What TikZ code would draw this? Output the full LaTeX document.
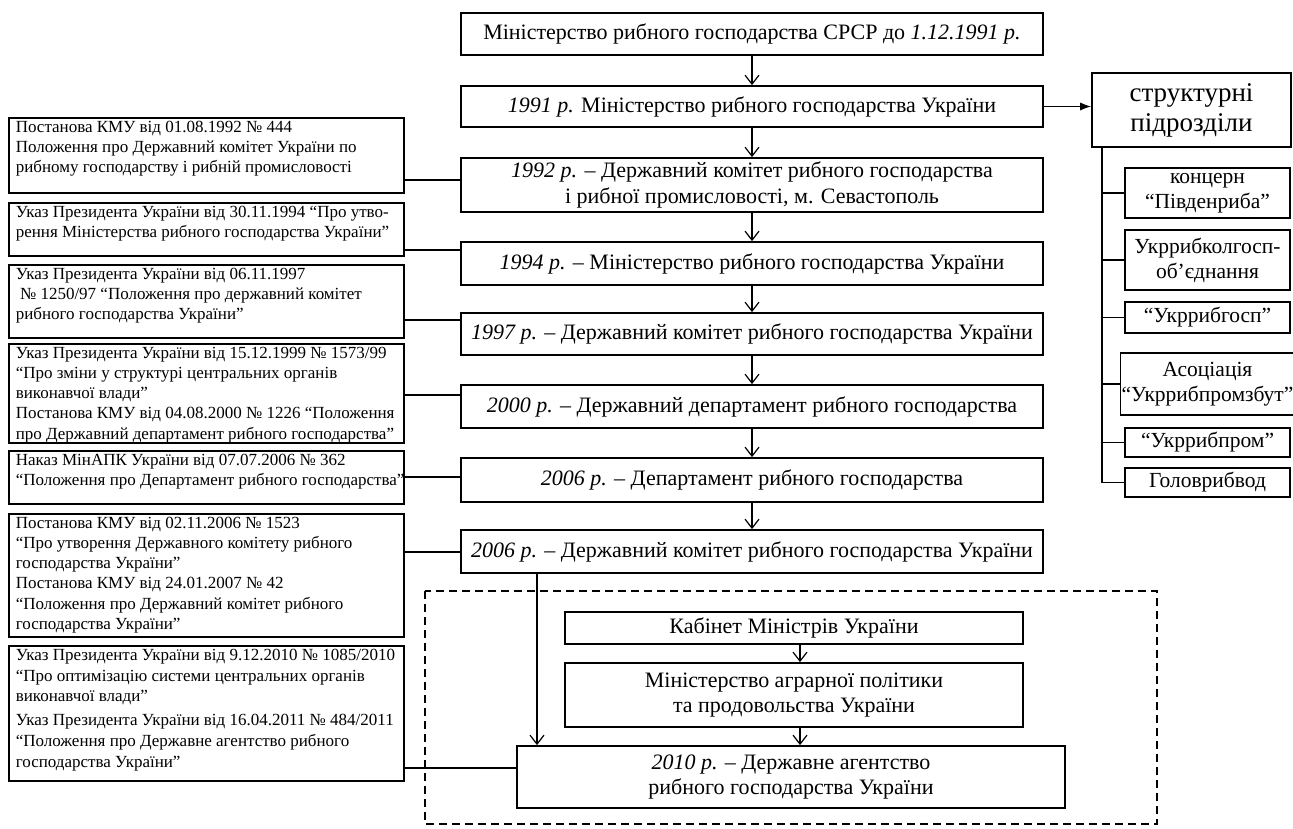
\documentclass[tikz,border=0pt]{standalone}
\usepackage{fontspec}
\setmainfont{Liberation Serif}
\usetikzlibrary{arrows.meta}
\newcommand\lb[3][20.3]{\begin{minipage}[c][#2][t]{381pt}\fontsize{17}{#1}\selectfont\vspace*{-3.5pt}\begin{tabular}{@{}l@{}}#3\end{tabular}\end{minipage}}
\begin{document}
\begin{tikzpicture}[x=1pt,y=-1pt,
 cbox/.style={draw, line width=1.8pt, align=center, inner sep=2pt, font=\fontsize{22}{25.5}\selectfont},
 lbox/.style={draw, line width=1.6pt, anchor=north west, inner xsep=7pt, inner ysep=3.5pt},
 sbox/.style={draw, line width=1.6pt, align=center, inner sep=1pt, font=\fontsize{21.5}{25}\selectfont},
 link/.style={line width=1.2pt},
 arr/.style={line width=1.2pt, -{Straight Barb[length=9pt,width=14pt,line width=1.2pt]}},
 farr/.style={line width=1.2pt, -{Latex[length=11pt,width=8pt]}},
 frame/.style={line width=2.2pt, dash pattern=on 8pt off 5pt}]
\useasboundingbox[fill=white] (0,0) rectangle (1293,829);

% central column
\node[cbox, minimum width=582pt, minimum height=42pt] (A) at (752,34) {Міністерство рибного господарства СРСР до \textit{1.12.1991 р.}};
\node[cbox, minimum width=582pt, minimum height=41pt] (B) at (752,106.5) {\textit{1991 р.} Міністерство рибного господарства України};
\node[cbox, minimum width=582pt, minimum height=54pt] (C) at (752,185) {\textit{1992 р.} – Державний комітет рибного господарства\\і рибної промисловості, м. Севастополь};
\node[cbox, minimum width=582pt, minimum height=43pt] (D) at (752,263.5) {\textit{1994 р.} – Міністерство рибного господарства України};
\node[cbox, minimum width=582pt, minimum height=42pt] (E) at (752,334) {\textit{1997 р.} – Державний комітет рибного господарства України};
\node[cbox, minimum width=582pt, minimum height=43pt] (F) at (752,406.5) {\textit{2000 р.} – Державний департамент рибного господарства};
\node[cbox, minimum width=582pt, minimum height=44pt] (G) at (752,480) {\textit{2006 р.} – Департамент рибного господарства};
\node[cbox, minimum width=582pt, minimum height=43pt] (H) at (752,551.5) {\textit{2006 р.} – Державний комітет рибного господарства України};

\draw[frame] (425,591) rectangle (1157,824);
\node[cbox, minimum width=458pt, minimum height=32pt] (K) at (794,628) {Кабінет Міністрів України};
\node[cbox, minimum width=458pt, minimum height=64pt] (M) at (794,695) {Міністерство аграрної політики\\та продовольства України};
\node[cbox, minimum width=548pt, minimum height=62pt] (N) at (791,777) {\textit{2010 р.} – Державне агентство\\рибного господарства України};

% structural units
\node[sbox, minimum width=199pt, minimum height=74pt, font=\fontsize{27}{30}\selectfont] (S) at (1191.5,110) {структурні\\підрозділи};
\node[sbox, minimum width=165pt, minimum height=50pt] (s1) at (1207.5,193) {концерн\\“Південриба”};
\node[sbox, minimum width=165pt, minimum height=60pt] (s2) at (1207.5,260) {Укррибколгосп-\\об’єднання};
\node[sbox, minimum width=165pt, minimum height=31pt] (s3) at (1207.5,317.5) {“Укррибгосп”};
\node[sbox, minimum width=165pt, minimum height=62pt] (s4) at (1207.5,384) {Асоціація\\“Укррибпромзбут”};
\node[sbox, minimum width=165pt, minimum height=29pt] (s5) at (1207.5,442.5) {“Укррибпром”};
\node[sbox, minimum width=165pt, minimum height=29pt] (s6) at (1207.5,482.5) {Головрибвод};

% left documents
\node[lbox] (L1) at (8,117) {\lb{68pt}{Постанова КМУ від 01.08.1992 № 444\\Положення про Державний комітет України по\\рибному господарству і рибній промисловості}};
\node[lbox] (L2) at (8,202) {\lb{46pt}{Указ Президента України від 30.11.1994 “Про утво-\\рення Міністерства рибного господарства України”}};
\node[lbox] (L3) at (8,264) {\lb{66pt}{Указ Президента України від 06.11.1997\\\ № 1250/97 “Положення про державний комітет\\рибного господарства України”}};
\node[lbox] (L4) at (8,343) {\lb{92pt}{Указ Президента України від 15.12.1999 № 1573/99\\“Про зміни у структурі центральних органів\\виконавчої влади”\\Постанова КМУ від 04.08.2000 № 1226 “Положення\\про Державний департамент рибного господарства”}};
\node[lbox] (L5) at (8,450) {\lb{46pt}{Наказ МінАПК України від 07.07.2006 № 362\\“Положення про Департамент рибного господарства”}};
\node[lbox] (L6) at (8,513) {\lb{116pt}{Постанова КМУ від 02.11.2006 № 1523\\“Про утворення Державного комітету рибного\\господарства України”\\Постанова КМУ від 24.01.2007 № 42\\“Положення про Державний комітет рибного\\господарства України”}};
\node[lbox] (L7) at (8,645) {\lb[20.8]{128pt}{Указ Президента України від 9.12.2010 № 1085/2010\\“Про оптимізацію системи центральних органів\\виконавчої влади”\\[3pt]Указ Президента України від 16.04.2011 № 484/2011\\“Положення про Державне агентство рибного\\господарства України”}};

% main chain
\draw[arr] (A) -- (B);
\draw[arr] (B) -- (C);
\draw[arr] (C) -- (D);
\draw[arr] (D) -- (E);
\draw[arr] (E) -- (F);
\draw[arr] (F) -- (G);
\draw[arr] (G) -- (H);
\coordinate (hx) at (537,0);
\draw[arr] (H.south -| hx) -- (N.north -| hx);
\coordinate (kx) at (800,0);
\draw[arr] (K.south -| kx) -- (M.north -| kx);
\draw[arr] (M.south -| kx) -- (N.north -| kx);

% to structural units
\draw[farr] (B.east) -- (S.west |- B.east);
\coordinate (tr) at (1102,0);
\draw[link] (S.south -| tr) |- (s6.west);
\foreach \s in {s1,s2,s3,s4,s5} \draw[link] (tr |- \s.west) -- (\s.west);

% document links
\coordinate (y1) at (0,180);
\coordinate (y2) at (0,250);
\coordinate (y3) at (0,320);
\coordinate (y4) at (0,395);
\coordinate (y5) at (0,477);
\coordinate (y6) at (0,552);
\coordinate (y7) at (0,768);
\draw[link] (L1.east |- y1) -- (C.west |- y1);
\draw[link] (L2.east |- y2) -- (D.west |- y2);
\draw[link] (L3.east |- y3) -- (E.west |- y3);
\draw[link] (L4.east |- y4) -- (F.west |- y4);
\draw[link] (L5.east |- y5) -- (G.west |- y5);
\draw[link] (L6.east |- y6) -- (H.west |- y6);
\draw[link] (L7.east |- y7) -- (N.west |- y7);
\end{tikzpicture}
\end{document}
